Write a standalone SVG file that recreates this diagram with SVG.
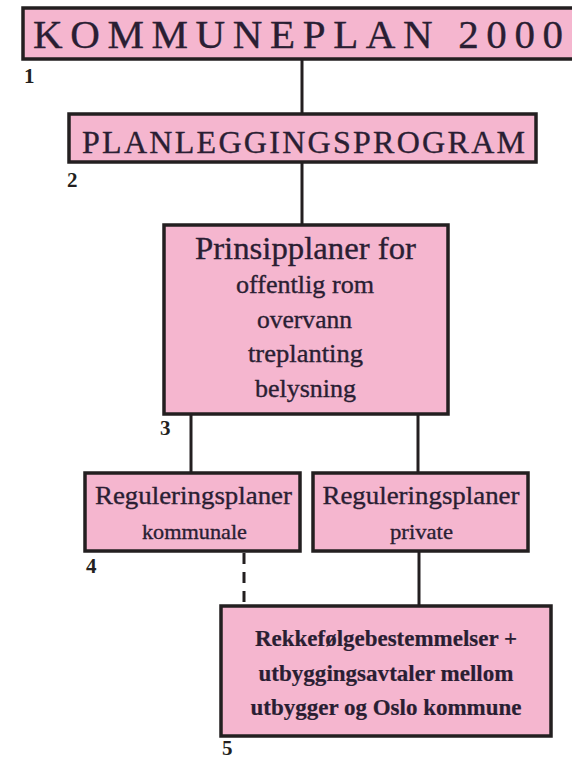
<svg xmlns="http://www.w3.org/2000/svg" width="572" height="761" viewBox="0 0 572 761">
<style>
.box{fill:#f5b6cf;stroke:#231f20;stroke-width:3.5}
.t{font-family:"Liberation Serif","Times New Roman",serif;fill:#2a1e33;text-anchor:middle;stroke:#2a1e33;stroke-width:0.35}
.b{font-weight:bold;stroke-width:0.2}
.num{font-family:"Liberation Serif","Times New Roman",serif;fill:#231f20;font-size:21px;font-weight:bold}
.line{stroke:#231f20;stroke-width:3;fill:none}
.dash{stroke-dasharray:11 8}
</style>
<rect width="572" height="761" fill="#ffffff"/>
<g id="connectors">
<line class="line" x1="302" y1="60" x2="302" y2="114"/>
<line class="line" x1="302" y1="162" x2="302" y2="225"/>
<line class="line" x1="191" y1="414" x2="191" y2="473"/>
<line class="line" x1="418" y1="414" x2="418" y2="473"/>
<line class="line dash" x1="244" y1="553" x2="244" y2="605"/>
<line class="line" x1="419" y1="551" x2="419" y2="606"/>
</g>
<g id="node1">
<rect class="box" x="23" y="8" width="560" height="51"/>
<text class="t" x="298" y="48" font-size="41" textLength="530" lengthAdjust="spacing">KOMMUNEPLAN 2000</text>
<text class="num" x="24" y="83">1</text>
</g>
<g id="node2">
<rect class="box" x="69" y="114" width="467" height="48"/>
<text class="t" x="303.5" y="153" font-size="32" textLength="443" lengthAdjust="spacing">PLANLEGGINGSPROGRAM</text>
<text class="num" x="67" y="187">2</text>
</g>
<g id="node3">
<rect class="box" x="164" y="225" width="284" height="189"/>
<text class="t" x="305.5" y="259" font-size="32" textLength="221" lengthAdjust="spacingAndGlyphs">Prinsipplaner for</text>
<text class="t" x="305" y="293" font-size="25" textLength="138" lengthAdjust="spacingAndGlyphs">offentlig rom</text>
<text class="t" x="304.5" y="328" font-size="25" textLength="95" lengthAdjust="spacingAndGlyphs">overvann</text>
<text class="t" x="305.5" y="362" font-size="25" textLength="115" lengthAdjust="spacingAndGlyphs">treplanting</text>
<text class="t" x="305.5" y="397" font-size="25" textLength="101" lengthAdjust="spacingAndGlyphs">belysning</text>
<text class="num" x="160" y="435">3</text>
</g>
<g id="node4">
<rect class="box" x="85" y="473" width="215" height="78"/>
<text class="t" x="193.5" y="504" font-size="26" textLength="197" lengthAdjust="spacingAndGlyphs">Reguleringsplaner</text>
<text class="t" x="194.5" y="539" font-size="22" textLength="105" lengthAdjust="spacingAndGlyphs">kommunale</text>
<text class="num" x="86" y="573">4</text>
</g>
<g id="node4b">
<rect class="box" x="313" y="473" width="215" height="78"/>
<text class="t" x="421" y="504" font-size="26" textLength="197" lengthAdjust="spacingAndGlyphs">Reguleringsplaner</text>
<text class="t" x="421.5" y="539" font-size="22" textLength="63" lengthAdjust="spacingAndGlyphs">private</text>
</g>
<g id="node5">
<rect class="box" x="221" y="606" width="330" height="130"/>
<text class="t b" x="386" y="646" font-size="23" textLength="262" lengthAdjust="spacingAndGlyphs">Rekkefølgebestemmelser +</text>
<text class="t b" x="386" y="681" font-size="23" textLength="255" lengthAdjust="spacingAndGlyphs">utbyggingsavtaler mellom</text>
<text class="t b" x="386" y="715" font-size="23" textLength="271" lengthAdjust="spacingAndGlyphs">utbygger og Oslo kommune</text>
<text class="num" x="222" y="755">5</text>
</g>
</svg>
